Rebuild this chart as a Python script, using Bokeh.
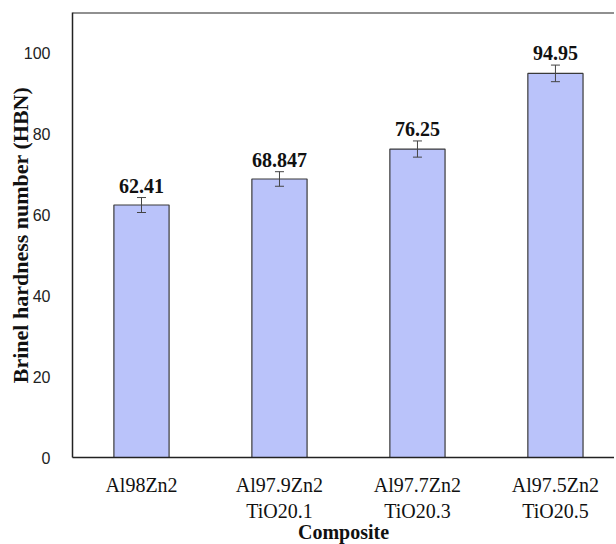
from bokeh.plotting import figure
from bokeh.models import Range1d, FixedTicker, Whisker, TeeHead, ColumnDataSource, Span
from bokeh.core.properties import value
from bokeh.embed import file_html
from bokeh.resources import INLINE

categories = ["Al98Zn2", "Al97.9Zn2\nTiO20.1", "Al97.7Zn2\nTiO20.3", "Al97.5Zn2\nTiO20.5"]
hardness = [62.41, 68.847, 76.25, 94.95]
errors = [1.85, 1.8, 2.0, 2.05]
value_labels = ["62.41", "68.847", "76.25", "94.95"]
y_ticks = [0, 20, 40, 60, 80, 100]

xs = list(range(1, len(categories) + 1))
src = ColumnDataSource(dict(
    x=xs, top=hardness,
    upper=[h + e for h, e in zip(hardness, errors)],
    lower=[h - e for h, e in zip(hardness, errors)],
    lab=value_labels,
))

p = figure(frame_width=542, frame_height=445, output_backend="svg", toolbar_location=None,
           x_range=Range1d(0.5, 4.428), y_range=Range1d(0, 110),
           min_border_left=72, min_border_right=0, min_border_top=12, min_border_bottom=80)
p.outline_line_color = None
p.xgrid.visible = False
p.ygrid.visible = False
p.background_fill_color = "white"
p.border_fill_color = "white"

p.vbar(x="x", top="top", bottom=0, width=0.4, source=src,
       fill_color="#BAC3FA", line_color="#3a3a3a", line_width=1.2)

wh = Whisker(base="x", upper="upper", lower="lower", source=src,
             line_color="#444444", line_width=1,
             upper_head=TeeHead(size=9, line_color="#444444", line_width=1),
             lower_head=TeeHead(size=9, line_color="#444444", line_width=1))
wh.level = "overlay"
p.add_layout(wh)

p.text(x="x", y="upper", text="lab", source=src, y_offset=-12,
       text_align="center", text_baseline="alphabetic",
       text_font=value("Liberation Serif"), text_font_style="bold",
       text_font_size="20px", text_color="#111111")

p.add_layout(Span(location=110, dimension="width", line_color="#222222", line_width=2))

# x axis
xa = p.xaxis[0]
xa.ticker = FixedTicker(ticks=xs)
xa.major_label_overrides = {i: c for i, c in zip(xs, categories)}
xa.major_tick_line_color = None
xa.minor_tick_line_color = None
xa.axis_line_color = "#222222"
xa.axis_line_width = 1.7
xa.major_label_text_font = "Liberation Serif"
xa.major_label_text_font_size = "20px"
xa.major_label_text_color = "#111111"
xa.major_label_standoff = 10
xa.axis_label = "Composite"
xa.axis_label_text_font = "Liberation Serif"
xa.axis_label_text_font_style = "bold"
xa.axis_label_text_font_size = "20px"
xa.axis_label_text_color = "#111111"
xa.axis_label_standoff = -4

# y axis
ya = p.yaxis[0]
ya.ticker = FixedTicker(ticks=y_ticks)
ya.major_tick_line_color = None
ya.minor_tick_line_color = None
ya.axis_line_color = "#222222"
ya.axis_line_width = 1.5
ya.major_label_text_font = "Liberation Sans"
ya.major_label_text_font_size = "16px"
ya.major_label_text_color = "#222222"
ya.major_label_standoff = 16
ya.axis_label = "Brinel hardness number (HBN)"
ya.axis_label_text_font = "Liberation Serif"
ya.axis_label_text_font_style = "bold"
ya.axis_label_text_font_size = "22px"
ya.axis_label_text_color = "#111111"
ya.axis_label_standoff = -12

open("out.html", "w").write(file_html(p, INLINE))
